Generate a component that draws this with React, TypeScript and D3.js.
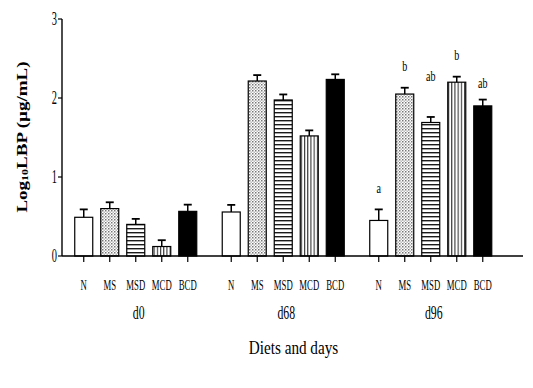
import React from "react";
import * as d3 from "d3";

const days = ["d0", "d68", "d96"];
const diets = ["N", "MS", "MSD", "MCD", "BCD"];
const meansD0 = [0.49, 0.6, 0.4, 0.12, 0.565];
const errD0 = [0.1, 0.08, 0.07, 0.08, 0.085];
const meansD68 = [0.557, 2.215, 1.975, 1.52, 2.235];
const errD68 = [0.09, 0.075, 0.07, 0.07, 0.065];
const meansD96 = [0.45, 2.05, 1.69, 2.2, 1.9];
const errD96 = [0.14, 0.08, 0.07, 0.07, 0.08];
const lettersD96 = ["a", "b", "ab", "b", "ab"];
const letterLevelsD96 = [0.86, 2.4, 2.27, 2.54, 2.18];
const yTicks = [0, 1, 2, 3];

const W = 533;
const H = 388;
const FONT = "'Liberation Serif', 'Times New Roman', serif";

const fills: Record<string, string> = {
  N: "#ffffff",
  MS: "url(#patMS)",
  MSD: "url(#patMSD)",
  MCD: "url(#patMCD)",
  BCD: "#000000",
};

export default function App() {
  const y = d3.scaleLinear().domain([0, 3]).range([256, 19]);
  const xGroup = d3.scaleBand<string>().domain(days).range([62, 504.5]).padding(0);
  const xInner = d3
    .scaleBand<string>()
    .domain(diets)
    .range([0, xGroup.bandwidth()])
    .paddingInner(0.3077)
    .paddingOuter(0.49);

  const groups = [
    { day: "d0", means: meansD0, errs: errD0, letters: null as string[] | null, levels: null as number[] | null },
    { day: "d68", means: meansD68, errs: errD68, letters: null, levels: null },
    { day: "d96", means: meansD96, errs: errD96, letters: lettersD96, levels: letterLevelsD96 },
  ];

  const bw = xInner.bandwidth();
  const y0 = y(0);

  return (
    <svg
      width={W}
      height={H}
      style={{ position: "absolute", left: 0, top: 0, background: "#fff" }}
      fontFamily={FONT}
    >
      <defs>
        <pattern id="patMS" patternUnits="userSpaceOnUse" width={3} height={3}>
          <rect width={3} height={3} fill="#fff" />
          <rect x={0} y={0} width={1.5} height={1.5} fill="#777" />
          <rect x={1.5} y={1.5} width={1.5} height={1.5} fill="#bbb" />
        </pattern>
        <pattern id="patMSD" patternUnits="userSpaceOnUse" width={4} height={4}>
          <rect width={4} height={4} fill="#fff" />
          <rect x={0} y={0} width={4} height={1.4} fill="#1a1a1a" />
        </pattern>
        <pattern id="patMCD" patternUnits="userSpaceOnUse" width={3.2} height={4}>
          <rect width={3.2} height={4} fill="#fff" />
          <rect x={0} y={0} width={1.1} height={4} fill="#333" />
        </pattern>
      </defs>

      {/* bars */}
      {groups.map((g) => {
        const gx = xGroup(g.day)!;
        return (
          <g key={g.day}>
            {diets.map((dname, i) => {
              const bx = gx + xInner(dname)!;
              const cx = bx + bw / 2;
              const top = y(g.means[i]);
              const et = y(g.means[i] + g.errs[i]);
              return (
                <g key={dname}>
                  <rect
                    x={bx}
                    y={top}
                    width={bw}
                    height={y0 - top}
                    fill={fills[dname]}
                    stroke="#000"
                    strokeWidth={1.2}
                  />
                  <line x1={cx} x2={cx} y1={top} y2={et} stroke="#000" strokeWidth={1.5} />
                  <line x1={cx - 4} x2={cx + 4} y1={et} y2={et} stroke="#000" strokeWidth={1.8} />
                  <line x1={cx} x2={cx} y1={y0} y2={y0 + 6} stroke="#000" strokeWidth={1.2} />
                  <text
                    transform={`translate(${cx},285) scale(0.58,1)`}
                    textAnchor="middle"
                    dominantBaseline="central"
                    fontSize={15}
                  >
                    {dname}
                  </text>
                  {g.letters && g.levels ? (
                    <text
                      transform={`translate(${cx},${y(g.levels[i])}) scale(0.72,1)`}
                      textAnchor="middle"
                      dominantBaseline="central"
                      fontSize={14}
                    >
                      {g.letters[i]}
                    </text>
                  ) : null}
                </g>
              );
            })}
            <text
              transform={`translate(${gx + xGroup.bandwidth() / 2 + 3},312) scale(0.62,1)`}
              textAnchor="middle"
              dominantBaseline="central"
              fontSize={19}
            >
              {g.day}
            </text>
          </g>
        );
      })}

      {/* axes */}
      <line x1={62} x2={523} y1={y0} y2={y0} stroke="#000" strokeWidth={1.4} />
      <line x1={62} x2={62} y1={y0} y2={y(3)} stroke="#000" strokeWidth={1.4} />
      {yTicks.map((t) => (
        <g key={t}>
          <line x1={58} x2={62} y1={y(t)} y2={y(t)} stroke="#000" strokeWidth={1.2} />
          <text
            transform={`translate(57,${y(t)}) scale(0.58,1)`}
            textAnchor="end"
            dominantBaseline="central"
            fontSize={18}
          >
            {t}
          </text>
        </g>
      ))}

      {/* axis titles */}
      <text
        transform={`translate(293.5,348) scale(0.8,1)`}
        textAnchor="middle"
        dominantBaseline="central"
        fontSize={19}
      >
        Diets and days
      </text>
      <text
        transform={`translate(22,137) rotate(-90) scale(1,0.72)`}
        textAnchor="middle"
        dominantBaseline="central"
        fontSize={19}
        fontWeight="bold"
      >
        <tspan>Log</tspan>
        <tspan fontSize={12} dy={4}>10</tspan>
        <tspan dy={-4}>LBP (µg/mL)</tspan>
      </text>
    </svg>
  );
}
